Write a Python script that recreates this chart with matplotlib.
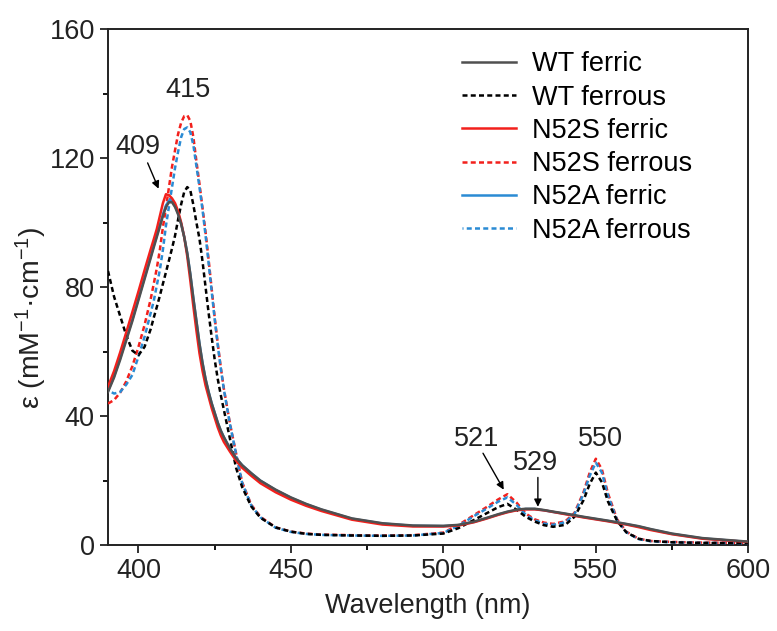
import numpy as np
import matplotlib
matplotlib.use('Agg')
from matplotlib import pyplot as plt

plt.rcParams['font.family'] = ['Liberation Sans', 'DejaVu Sans']
plt.rcParams['mathtext.fontset'] = 'custom'
plt.rcParams['mathtext.rm'] = 'Liberation Sans'
plt.rcParams['mathtext.it'] = 'Liberation Sans:italic'

# wavelength grid (nm)
wavelength = [390, 392, 394, 396, 398, 400, 402, 404,
              405, 406, 407, 408, 409, 410, 411, 412, 413, 414, 415, 416, 417, 418,
              419, 420, 421, 422, 423, 424, 425, 426, 427, 428,
              430, 432, 434, 437, 440,
              445, 450, 455, 460, 470, 480, 490, 500,
              505, 510, 514, 518, 521, 524, 527, 530, 533, 536, 540, 543,
              546, 548, 550, 552, 554, 557, 560, 564, 568, 575, 585, 600]

wt_ferric = [47.5, 52, 57.5, 63.5, 69.5, 76, 82.5, 89,
             92.3, 95.5, 98.7, 102, 104.8, 106.3, 106.3, 104.8, 102.5, 99.5, 95.5, 90.5, 84, 76.5,
             69.5, 62.5, 56.5, 51.5, 47.5, 44, 41, 38, 35.5, 33.5,
             30, 27, 24.8, 22.3, 20,
             17.2, 14.8, 12.8, 11.1, 8.3, 6.8, 6.1, 6.0,
             6.3, 7.3, 8.4, 9.6, 10.4, 11.0, 11.3, 11.3, 10.9, 10.4, 9.8, 9.3,
             8.8, 8.5, 8.2, 7.9, 7.6, 7.1, 6.6, 5.9, 5.0, 3.6, 2.2, 1.1]

wt_ferrous = [85, 77, 71, 65, 60.3, 58.9, 61.5, 67,
              70.5, 73.8, 77.3, 81, 84.6, 88.3, 92, 96, 101, 105.7, 109.5, 111, 110, 105.5,
              100, 95, 88, 80, 72, 64.5, 57.5, 51.5, 46.5, 42,
              33, 24, 18, 12, 8.5,
              5.5, 4.2, 3.5, 3.2, 3.0, 2.9, 3.0, 3.6,
              5.3, 7.8, 9.8, 11.8, 12.8, 11.0, 8.8, 7.3, 6.2, 5.7, 6.3, 8.8,
              14.0, 19.0, 22.5, 19.5, 13.5, 7.5, 4.0, 2.0, 1.3, 0.9, 0.7, 0.6]

n52s_ferric = [49.1, 54, 59.8, 66, 72.3, 78.7, 85.3, 91.7,
               94.8, 98, 102, 106, 108.8, 108.5, 107.5, 106, 103.5, 100, 95.5, 89.5, 82, 74,
               66.5, 59.5, 54, 49.5, 46, 42.5, 39.5, 36.5, 34, 32,
               29, 26.2, 24, 21.5, 19.2,
               16.4, 14.1, 12.2, 10.6, 7.9, 6.4, 5.8, 5.8,
               6.1, 7.1, 8.2, 9.4, 10.2, 10.8, 11.1, 11.1, 10.8, 10.3, 9.6, 9.1,
               8.6, 8.3, 8.0, 7.7, 7.4, 6.9, 6.4, 5.6, 4.7, 3.4, 2.0, 1.0]

n52s_ferrous = [43.9, 45, 47.3, 50.8, 55.5, 61.5, 68.3, 76.3,
                81, 85.8, 91.5, 98.5, 104.5, 111, 117.3, 122.5, 127.5, 131, 133, 133.3, 131.5, 126.5,
                119, 112, 104.5, 97, 88.5, 79.5, 70.5, 62.5, 55, 48.5,
                37.7, 28.5, 19.5, 12.5, 8.8,
                5.5, 4.2, 3.6, 3.3, 3.1, 3.0, 3.1, 3.9,
                6.3, 9.3, 11.7, 14.2, 15.8, 13.2, 9.8, 8.0, 7.0, 6.6, 7.4, 10.0,
                16.5, 22.5, 26.8, 23.5, 16.0, 8.0, 4.2, 2.0, 1.3, 1.0, 0.8, 0.7]

n52a_ferric = [47.8, 52.4, 58, 64, 70, 76.5, 83, 89.5,
               92.8, 96, 99.2, 102.5, 105.3, 106.8, 106.8, 105.2, 102.8, 99.7, 95.6, 90.5, 84, 76.5,
               69.5, 62.5, 56.5, 51.5, 47.5, 44, 41, 38, 35.5, 33.5,
               30, 27, 24.8, 22.3, 20,
               17.1, 14.7, 12.7, 11.0, 8.2, 6.7, 6.0, 5.9,
               6.2, 7.2, 8.3, 9.5, 10.3, 10.9, 11.2, 11.2, 10.8, 10.3, 9.7, 9.2,
               8.7, 8.4, 8.1, 7.8, 7.5, 7.0, 6.5, 5.8, 4.9, 3.5, 2.1, 1.0]

n52a_ferrous = [48, 47, 47.5, 49.8, 52.8, 58.5, 64.6, 72,
                75.7, 80.5, 85.3, 91.5, 99, 105, 111, 117, 122, 126.5, 129, 129.5, 128, 124,
                117.5, 111, 104, 96, 87.5, 78.7, 70, 62, 54.8, 48.3,
                37.5, 28.3, 19.3, 12.3, 8.6,
                5.4, 4.1, 3.5, 3.2, 3.0, 2.9, 3.0, 3.8,
                6.0, 9.0, 11.2, 13.5, 14.8, 12.5, 9.4, 7.7, 6.7, 6.3, 7.1, 9.6,
                16.0, 21.5, 25.6, 22.5, 15.3, 7.7, 4.0, 1.9, 1.2, 0.9, 0.7, 0.6]

labels = ['WT ferric', 'WT ferrous', 'N52S ferric', 'N52S ferrous', 'N52A ferric', 'N52A ferrous']

grey = '#505050'
red = '#f2201c'
blue = '#2a8bd4'
dash = (0, (2.0, 1.3))
fs = 19.5

fig = plt.figure(figsize=(7.77, 6.31), dpi=100)
ax = fig.add_axes([0.139, 0.136, 0.824, 0.818])

wl = np.array(wavelength)
# draw order so the grey ferric trace sits on top of the blue one
l_wt, = ax.plot(wl, wt_ferric, color=grey, lw=1.8, zorder=5)
l_wtr, = ax.plot(wl, wt_ferrous, color='black', lw=1.8, ls=dash, zorder=4)
l_s, = ax.plot(wl, n52s_ferric, color=red, lw=1.8, zorder=4)
l_sr, = ax.plot(wl, n52s_ferrous, color=red, lw=1.8, ls=dash, zorder=3)
l_a, = ax.plot(wl, n52a_ferric, color=blue, lw=1.8, zorder=3)
l_ar, = ax.plot(wl, n52a_ferrous, color=blue, lw=1.8, ls=(1.6, (2.0, 1.3)), zorder=3.5)

ax.legend([l_wt, l_wtr, l_s, l_sr, l_a, l_ar], labels, frameon=False, fontsize=fs,
          loc='upper left', bbox_to_anchor=(0.553, 0.957), borderaxespad=0, borderpad=0,
          handlelength=2.0, handletextpad=0.6, labelspacing=0.27)

ax.set_xlim(390, 600)
ax.set_ylim(0, 160)
ax.set_xticks([400, 450, 500, 550, 600])
ax.set_xticks([425, 475, 525, 575], minor=True)
ax.set_yticks([0, 40, 80, 120, 160])
ax.set_yticks([20, 60, 100, 140], minor=True)
ax.tick_params(which='major', direction='out', length=6, width=1.3, labelsize=fs, colors='#222222')
ax.tick_params(which='minor', direction='out', length=3.5, width=1.3)
for s in ax.spines.values():
    s.set_linewidth(1.4)
    s.set_color('#222222')

ax.set_xlabel('Wavelength (nm)', fontsize=fs, color='#222222', labelpad=6)
ax.set_ylabel(r'ε (mM$^{-1}$·cm$^{-1}$)', fontsize=20.5, color='#222222')
ax.yaxis.set_label_coords(-0.092, 0.44)

# peak annotations
akw = dict(arrowstyle='-|>', color='black', lw=1.0, mutation_scale=11, shrinkA=0, shrinkB=0)
ax.annotate('', xy=(406.6, 110.5), xytext=(403.0, 118.5), arrowprops=akw)
ax.text(399.8, 123.5, '409', fontsize=fs, ha='center', va='center', color='#222222')
ax.text(416.2, 141, '415', fontsize=fs, ha='center', va='center', color='#222222')
ax.annotate('', xy=(519.8, 17.2), xytext=(513.0, 28.5), arrowprops=akw)
ax.text(510.8, 33, '521', fontsize=fs, ha='center', va='center', color='#222222')
ax.annotate('', xy=(531.0, 11.9), xytext=(531.0, 21.0), arrowprops=akw)
ax.text(530.3, 25.6, '529', fontsize=fs, ha='center', va='center', color='#222222')
ax.text(551.6, 33, '550', fontsize=fs, ha='center', va='center', color='#222222')

fig.savefig('out.png', dpi=100)
